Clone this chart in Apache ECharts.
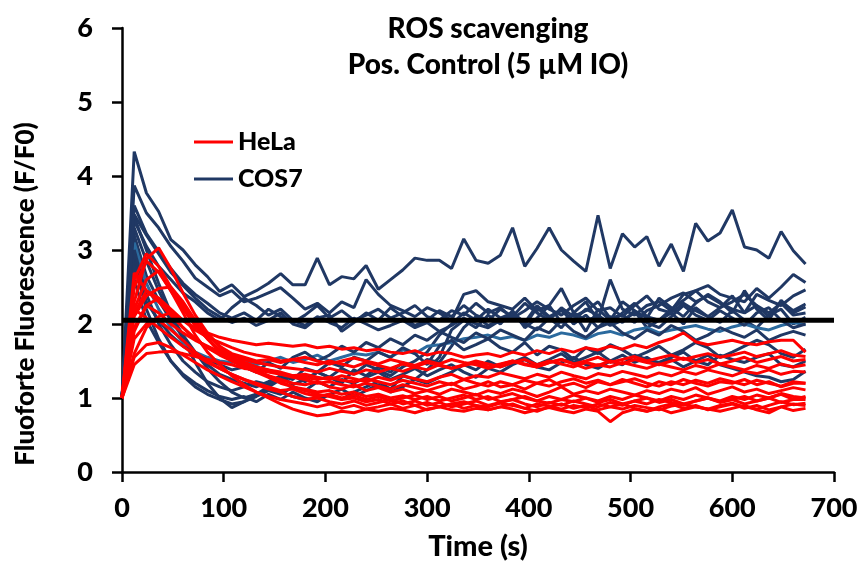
<!DOCTYPE html>
<html><head><meta charset="utf-8">
<script src="https://cdn.jsdelivr.net/npm/echarts@6/dist/echarts.min.js"></script>
<style>html,body{margin:0;padding:0;background:#fff}#c{width:862px;height:571px}</style>
</head><body><div id="c"></div>
<script>
// time points (s)
const times = [0,12,24,36,48,60,72,84,96,108,120,132,144,156,168,180,192,204,216,228,240,252,264,276,288,300,312,324,336,348,360,372,384,396,408,420,432,444,456,468,480,492,504,516,528,540,552,564,576,588,600,612,624,636,648,660,672];
const xTicks = [0,100,200,300,400,500,600,700];
const yTicks = [0,1,2,3,4,5,6];
const refLevel = 2.05;

// COS7 traces
const cos01 = [1.00,4.33,3.77,3.52,3.14,3.00,2.80,2.64,2.44,2.53, 2.37,2.45,2.55,2.68,2.53,2.53,2.89,2.53,2.64,2.61, 2.79,2.47,2.60,2.73,2.89,2.86,2.86,2.75,3.15,2.86, 2.82,2.93,3.30,2.78,3.02,3.30,3.00,2.85,2.71,3.47, 2.75,3.22,3.04,3.18,2.78,3.08,2.71,3.36,3.12,3.23, 3.54,3.04,3.00,2.89,3.25,2.99,2.81];
const cos02 = [1.00,3.87,3.50,3.30,3.05,2.85,2.62,2.50,2.38,2.45, 2.30,2.35,2.42,2.49,2.35,2.20,2.28,2.15,2.30,2.22, 2.60,2.40,2.25,2.18,2.10,2.22,2.15,2.05,2.40,2.45, 2.30,2.25,2.20,2.35,2.18,2.25,2.48,2.15,2.30,2.05, 2.60,2.20,2.12,2.25,2.30,2.18,2.40,2.45,2.52,2.40, 2.35,2.30,2.48,2.35,2.50,2.67,2.56];
const cos03 = [1.00,3.48,3.20,2.95,2.70,2.52,2.35,2.20,2.10,2.02, 2.08,1.98,2.05,2.15,2.00,1.95,2.08,2.12,1.90,2.02, 2.15,2.05,2.22,2.10,1.98,2.05,2.18,2.10,2.25,2.12, 2.05,2.20,2.10,2.28,2.15,2.05,2.22,2.10,2.18,2.30, 2.08,2.12,2.02,2.18,2.25,2.35,2.42,2.30,2.38,2.28, 2.20,2.15,2.40,2.32,2.25,2.38,2.46];
const cos04 = [1.00,3.45,3.00,2.55,2.15,1.80,1.48,1.20,1.00,0.87, 0.95,1.05,1.15,1.25,1.30,1.22,1.35,1.28,1.40,1.32, 1.45,1.38,1.30,1.42,1.50,1.62,1.85,2.00,2.15,2.05, 2.20,2.08,2.15,2.02,2.25,2.10,2.18,2.05,2.20,2.12, 2.00,2.15,2.28,2.10,2.05,2.20,2.32,2.45,2.30,2.22, 2.38,2.15,2.25,2.10,2.30,2.18,2.27];
const cos05 = [1.00,3.30,2.85,2.45,2.12,1.85,1.62,1.40,1.22,1.08, 1.00,1.05,1.12,1.08,1.02,0.98,1.00,1.05,0.98,1.08, 1.15,1.22,1.12,1.30,1.25,1.38,1.55,1.92,2.05,1.95, 2.12,2.00,2.18,1.95,2.08,2.25,2.02,2.15,1.90,2.20, 2.05,2.30,2.18,2.08,2.35,2.22,2.10,2.28,2.40,2.30, 2.15,2.45,2.20,2.05,2.32,2.15,2.23];
const cos06 = [1.00,3.20,2.65,2.32,2.05,1.82,1.60,1.45,1.32,1.25, 1.20,1.15,1.22,1.30,1.18,1.25,1.35,1.28,1.20,1.38, 1.30,1.42,1.35,1.48,1.40,1.52,1.48,1.70,1.95,2.10, 1.98,2.05,2.15,2.00,1.92,2.08,2.20,2.00,2.12,1.95, 2.10,2.02,2.18,1.95,2.05,2.15,2.00,2.22,2.10,2.02, 2.18,2.05,1.95,2.12,2.20,2.00,2.09];
const cos07 = [1.00,3.10,2.55,2.20,1.95,1.75,1.62,1.55,1.50,1.48, 1.52,1.45,1.50,1.55,1.48,1.52,1.58,1.50,1.55,1.60, 1.58,1.62,1.55,1.65,1.60,1.70,1.72,1.75,1.80,1.82, 1.85,1.80,1.83,1.78,1.85,1.82,1.88,1.85,1.80,1.87, 1.90,1.85,1.92,1.95,1.88,1.92,1.95,1.98,1.93,1.90, 1.96,2.00,1.95,1.92,1.98,2.02,1.99];
const cos08 = [1.00,2.90,2.30,2.05,1.85,1.70,1.60,1.52,1.45,1.38, 1.42,1.35,1.48,1.40,1.55,1.62,1.50,1.58,1.70,1.62, 1.75,1.68,1.80,1.72,1.85,1.78,1.90,1.82,1.75,1.88, 1.80,1.92,1.85,1.78,1.95,1.88,2.05,1.90,1.82,1.95, 2.02,1.88,1.80,1.92,1.85,1.98,1.90,1.78,1.85,1.95, 1.88,1.82,1.92,1.78,1.85,1.90,1.85];
const cos09 = [1.00,3.00,2.40,2.00,1.72,1.50,1.35,1.22,1.15,1.10, 1.15,1.22,1.18,1.30,1.25,1.40,1.35,1.48,1.42,1.55, 1.50,1.62,1.55,1.68,1.60,1.45,1.70,1.78,1.65,1.72, 1.80,1.68,1.62,1.75,1.58,1.70,1.65,1.52,1.68,1.60, 1.72,1.65,1.55,1.62,1.70,1.58,1.65,1.75,1.68,1.55, 1.62,1.70,1.78,1.72,1.60,1.55,1.66];
const cos10 = [1.00,2.80,2.20,1.80,1.50,1.30,1.15,1.05,0.98,0.92, 0.95,1.02,1.10,1.05,1.15,1.10,1.22,1.15,1.25,1.20, 1.28,1.35,1.25,1.32,1.40,1.30,1.38,1.45,1.35,1.28, 1.40,1.35,1.45,1.52,1.42,1.38,1.48,1.55,1.45,1.40, 1.50,1.58,1.48,1.55,1.45,1.52,1.42,1.50,1.58,1.45, 1.40,1.35,1.30,1.28,1.22,1.25,1.36];
const cos11 = [1.00,3.40,3.05,2.78,2.60,2.42,2.30,2.15,2.05,2.22, 2.35,2.25,2.12,2.20,2.05,1.98,2.10,2.02,1.95,2.08, 2.00,1.92,1.98,2.05,1.95,2.02,1.90,1.98,2.08,2.00, 1.95,2.05,2.12,1.98,2.22,2.08,1.95,2.15,2.05,2.10, 1.98,2.05,2.15,2.02,1.95,2.10,2.25,2.12,2.05,2.18, 2.08,1.98,2.15,2.22,2.05,1.95,2.00];
const cos12 = [1.00,3.60,3.22,2.98,2.75,2.55,2.40,2.28,2.15,2.08, 2.15,2.05,2.20,2.10,2.02,2.12,2.25,2.08,2.18,2.05, 2.12,2.20,2.08,2.15,2.25,2.10,2.05,2.18,2.12,2.28, 2.15,2.22,2.08,2.18,2.30,2.20,2.12,2.25,2.35,2.18, 2.22,2.10,2.25,2.38,2.20,2.15,2.28,2.18,2.10,2.22, 2.30,2.40,2.25,2.15,2.28,2.12,2.15];
const cos13 = [1.00,2.60,2.05,1.75,1.50,1.32,1.20,1.10,1.02,0.98, 1.02,0.95,1.05,0.98,1.08,1.00,0.95,1.05,1.12,1.02, 1.10,1.18,1.08,1.15,1.25,1.20,1.28,1.35,1.45,1.38, 1.50,1.42,1.48,1.55,1.45,1.52,1.60,1.48,1.55,1.62, 1.50,1.45,1.58,1.52,1.48,1.55,1.62,1.50,1.45,1.58, 1.52,1.48,1.55,1.60,1.45,1.42,1.50];

// HeLa traces
const hela01 = [1.00,2.30,2.88,3.03,2.75,2.42,2.12,1.88,1.70,1.55, 1.45,1.38,1.30,1.22,1.15,1.10,1.05,1.02,0.98,1.00, 0.95,0.98,0.92,0.96,0.90,0.94,0.88,0.92,0.95,0.90, 0.88,0.93,0.90,0.86,0.92,0.89,0.85,0.90,0.87,0.92, 0.88,0.85,0.90,0.87,0.84,0.89,0.92,0.88,0.85,0.90, 0.93,0.88,0.85,0.90,0.95,0.91,0.93];
const hela02 = [1.00,2.60,2.95,2.78,2.50,2.25,2.00,1.80,1.62,1.50, 1.42,1.35,1.28,1.20,1.15,1.12,1.08,1.10,1.05,1.08, 1.02,1.05,1.00,1.03,0.98,1.02,0.96,1.00,1.04,0.98, 1.02,0.95,0.98,1.02,0.96,0.93,0.98,0.95,1.00,0.94, 0.98,0.92,0.96,1.00,0.94,0.98,0.92,0.96,1.00,0.95, 0.98,1.02,0.96,1.00,1.05,0.98,1.02];
const hela03 = [1.00,2.50,2.85,2.70,2.45,2.20,1.98,1.80,1.65,1.55, 1.48,1.42,1.38,1.32,1.28,1.25,1.20,1.22,1.18,1.15, 1.20,1.16,1.12,1.18,1.14,1.10,1.15,1.20,1.12,1.16, 1.22,1.15,1.18,1.12,1.20,1.25,1.16,1.20,1.14,1.22, 1.18,1.25,1.20,1.15,1.22,1.18,1.25,1.20,1.16,1.22, 1.20,1.25,1.18,1.22,1.15,1.20,1.20];
const hela04 = [1.00,2.20,2.60,2.72,2.45,2.15,1.85,1.62,1.45,1.30, 1.18,1.08,1.00,0.92,0.85,0.80,0.76,0.78,0.82,0.80, 0.85,0.82,0.86,0.84,0.80,0.85,0.88,0.84,0.82,0.86, 0.84,0.88,0.85,0.80,0.84,0.87,0.83,0.80,0.85,0.82, 0.68,0.80,0.85,0.82,0.86,0.80,0.84,0.88,0.85,0.82, 0.86,0.90,0.84,0.80,0.88,0.83,0.86];
const hela05 = [1.00,2.69,2.45,2.30,2.12,1.95,1.80,1.68,1.58,1.50, 1.42,1.35,1.30,1.25,1.20,1.18,1.22,1.15,1.12,1.18, 1.10,1.14,1.08,1.12,1.06,1.10,1.05,1.12,1.08,1.04, 1.10,1.06,1.12,1.08,1.02,1.08,1.15,1.05,1.10,1.06, 1.12,1.08,1.04,1.10,1.06,1.12,1.08,1.14,1.05,1.10, 1.15,1.08,1.12,1.06,1.10,1.14,1.11];
const hela06 = [1.00,2.15,2.45,2.35,2.15,1.95,1.80,1.68,1.60,1.52, 1.48,1.42,1.38,1.35,1.30,1.32,1.28,1.25,1.30,1.26, 1.22,1.28,1.24,1.30,1.26,1.22,1.28,1.32,1.25,1.30, 1.28,1.34,1.30,1.26,1.32,1.28,1.35,1.30,1.26,1.33, 1.30,1.36,1.32,1.28,1.34,1.30,1.36,1.32,1.38,1.34, 1.30,1.36,1.33,1.38,1.32,1.36,1.35];
const hela07 = [1.00,1.95,2.25,2.35,2.20,2.05,1.92,1.82,1.75,1.68, 1.62,1.58,1.55,1.50,1.52,1.48,1.45,1.50,1.46,1.42, 1.48,1.44,1.40,1.46,1.42,1.48,1.44,1.40,1.45,1.50, 1.46,1.42,1.48,1.52,1.45,1.50,1.46,1.42,1.48,1.44, 1.50,1.46,1.52,1.48,1.45,1.50,1.54,1.48,1.52,1.46, 1.50,1.55,1.48,1.52,1.56,1.50,1.52];
const hela08 = [1.00,1.90,2.25,2.15,2.00,1.88,1.78,1.70,1.62,1.58, 1.52,1.48,1.45,1.42,1.40,1.38,1.35,1.40,1.36,1.32, 1.38,1.35,1.40,1.36,1.42,1.38,1.45,1.40,1.44,1.48, 1.42,1.46,1.50,1.45,1.42,1.48,1.52,1.46,1.50,1.55, 1.48,1.52,1.56,1.50,1.54,1.58,1.52,1.56,1.60,1.55, 1.58,1.62,1.56,1.60,1.64,1.58,1.56];
const hela09 = [1.00,1.60,1.95,2.10,2.15,2.05,1.95,1.88,1.82,1.78, 1.75,1.72,1.74,1.72,1.70,1.72,1.68,1.70,1.66,1.68, 1.64,1.66,1.62,1.60,1.64,1.58,1.62,1.60,1.55,1.58, 1.60,1.56,1.62,1.58,1.64,1.60,1.66,1.62,1.68,1.65, 1.70,1.66,1.72,1.68,1.75,1.80,1.88,1.76,1.72,1.75, 1.78,1.74,1.72,1.76,1.78,1.78,1.62];
const hela10 = [1.00,1.80,2.00,2.05,1.92,1.78,1.62,1.50,1.40,1.32, 1.25,1.18,1.12,1.08,1.02,0.98,1.00,0.95,0.92,0.96, 0.90,0.94,0.98,0.92,0.96,0.90,0.94,0.88,0.92,0.96, 0.90,0.94,0.98,0.92,0.88,0.94,0.90,0.96,0.92,0.88, 0.94,0.90,0.96,0.92,0.98,0.94,0.90,0.96,1.00,0.94, 0.98,0.92,0.96,1.00,0.94,0.98,0.98];
const hela11 = [1.00,1.45,1.60,1.62,1.63,1.60,1.56,1.52,1.48,1.45, 1.40,1.38,1.35,1.32,1.30,1.28,1.25,1.28,1.24,1.22, 1.26,1.22,1.18,1.24,1.20,1.16,1.22,1.18,1.25,1.20, 1.16,1.22,1.18,1.24,1.20,1.16,1.22,1.26,1.20,1.24, 1.18,1.22,1.26,1.20,1.16,1.22,1.18,1.24,1.20,1.26, 1.22,1.18,1.24,1.20,1.16,1.22,1.20];
const hela12 = [1.00,1.55,1.72,1.75,1.68,1.58,1.48,1.38,1.30,1.22, 1.15,1.08,1.02,0.98,0.95,0.92,0.88,0.92,0.86,0.90, 0.85,0.88,0.92,0.86,0.90,0.84,0.88,0.92,0.86,0.90, 0.84,0.88,0.92,0.86,0.82,0.88,0.92,0.86,0.90,0.84, 0.88,0.92,0.86,0.82,0.88,0.92,0.86,0.90,0.84,0.88, 0.92,0.86,0.90,0.84,0.88,0.92,0.90];
const hela13 = [1.00,2.10,2.38,2.48,2.50,2.30,2.05,1.85,1.70,1.60, 1.55,1.50,1.52,1.48,1.52,1.55,1.50,1.46,1.50,1.54, 1.50,1.46,1.52,1.48,1.44,1.50,1.46,1.52,1.48,1.45, 1.40,1.45,1.50,1.46,1.42,1.48,1.52,1.46,1.40,1.45, 1.42,1.48,1.44,1.40,1.46,1.42,1.38,1.44,1.40,1.46, 1.42,1.38,1.44,1.40,1.46,1.42,1.45];
const hela14 = [1.00,2.20,2.08,1.95,1.82,1.70,1.58,1.48,1.40,1.32, 1.25,1.20,1.15,1.10,1.12,1.06,1.02,1.05,1.00,1.04, 0.98,1.02,0.96,1.00,1.04,0.98,1.02,0.96,1.00,1.05, 0.98,1.02,1.06,1.00,0.96,1.02,0.98,1.04,1.00,0.96, 1.02,0.98,1.04,1.00,0.96,1.02,0.98,1.04,1.00,0.96, 1.02,0.98,1.04,1.00,1.06,1.02,1.00];

const cosTraces = [cos01,cos02,cos03,cos04,cos05,cos06,cos07,cos08,cos09,cos10,cos11,cos12,cos13];
const helaTraces = [hela01,hela02,hela03,hela04,hela05,hela06,hela07,hela08,hela09,hela10,hela11,hela12,hela13,hela14];

const NAVY = '#203864', LIGHTBLUE = '#2b6a9e', RED = '#ff0000';
const FONT = 'Lato';
const W = 900;

function toPts(vals){ return vals.map((v,i)=>[times[i], v]); }

const series = [];
cosTraces.forEach((tr, k) => {
  series.push({
    type:'line', name:'COS7', data: toPts(tr), showSymbol:false, symbol:'none',
    lineStyle:{width:3, color: k===6 ? LIGHTBLUE : NAVY}, itemStyle:{color:NAVY},
    z:2, silent:true
  });
});
helaTraces.forEach((tr) => {
  series.push({
    type:'line', name:'HeLa', data: toPts(tr), showSymbol:false, symbol:'none',
    lineStyle:{width:3, color:RED}, itemStyle:{color:RED},
    z:3, silent:true
  });
});
series.push({
  type:'line', name:'ref', data: [[xTicks[0], refLevel],[xTicks[xTicks.length-1], refLevel]],
  showSymbol:false, symbol:'none', lineStyle:{width:5, color:'#000'}, z:5, silent:true
});

const chart = echarts.init(document.getElementById('c'), null, {renderer:'canvas'});
chart.setOption({
  animation:false,
  backgroundColor:'#fff',
  title:{
    text:'ROS scavenging\nPos. Control (5 µM IO)',
    left:483, top:6, textAlign:'center',
    textStyle:{fontFamily:FONT, fontWeight:W, fontSize:28, lineHeight:36, color:'#000'}
  },
  legend:{
    data:['HeLa','COS7'], orient:'vertical', left:189, top:124,
    icon:'rect', itemWidth:39, itemHeight:3, itemGap:11,
    textStyle:{fontFamily:FONT, fontWeight:W, fontSize:25, lineHeight:26, color:'#000'},
    selectedMode:false
  },
  grid:{left:122, right:28, top:28, bottom:99, containLabel:false, outerBoundsMode:'none'},
  xAxis:{
    type:'value', min:0, max:700, interval:100,
    name:'Time (s)', nameLocation:'middle', nameGap:60,
    nameTextStyle:{fontFamily:FONT, fontWeight:W, fontSize:29, color:'#000'},
    axisLine:{show:true, onZero:false, lineStyle:{color:'#000', width:2.5}},
    axisTick:{show:true, inside:false, length:10, lineStyle:{color:'#000', width:2.5}},
    axisLabel:{fontFamily:FONT, fontWeight:W, fontSize:27, color:'#000', margin:23},
    splitLine:{show:false}
  },
  yAxis:{
    type:'value', min:0, max:6, interval:1,
    name:'Fluoforte Fluorescence (F/F0)', nameLocation:'middle', nameGap:83, nameRotate:90,
    nameTextStyle:{fontFamily:FONT, fontWeight:W, fontSize:26, color:'#000', padding:[0,88,0,0]},
    axisLine:{show:true, onZero:false, lineStyle:{color:'#000', width:2.5}},
    axisTick:{show:true, inside:false, length:10, lineStyle:{color:'#000', width:2.5}},
    axisLabel:{fontFamily:FONT, fontWeight:W, fontSize:27, color:'#000', margin:29},
    splitLine:{show:false}
  },
  series: series
});
</script></body></html>
